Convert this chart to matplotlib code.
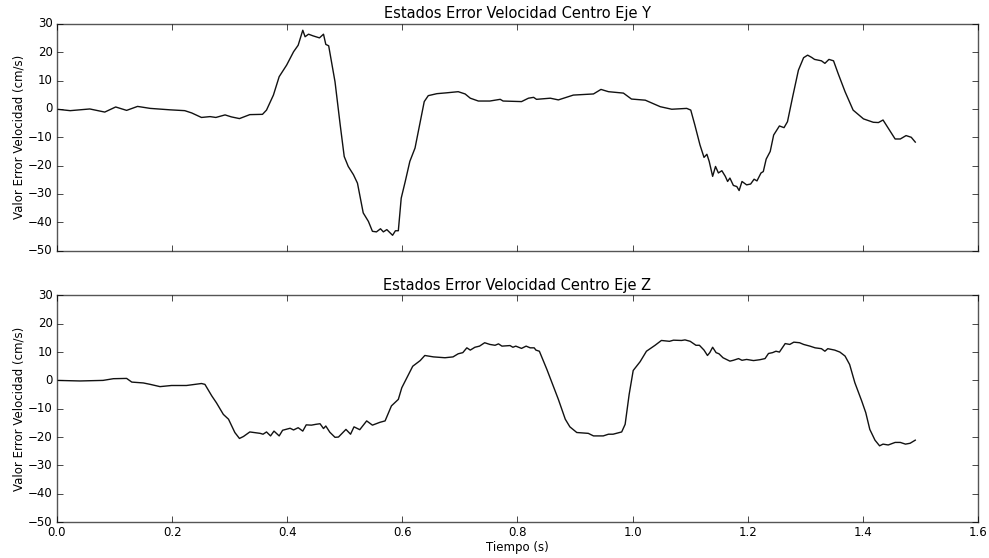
import numpy as np
import matplotlib
matplotlib.use("Agg")
import matplotlib.pyplot as plt

# Eje Y: tiempo (s) y error de velocidad (cm/s)
t_y = [0.0, 0.023, 0.057, 0.083, 0.102, 0.121, 0.140, 0.162, 0.196, 0.222, 0.234, 0.251,
       0.266, 0.276, 0.292, 0.303, 0.317, 0.335, 0.357, 0.364, 0.376, 0.386, 0.399, 0.411,
       0.419, 0.427, 0.431, 0.437, 0.445, 0.456, 0.463, 0.467, 0.472, 0.483, 0.492, 0.499,
       0.506, 0.515, 0.522, 0.532, 0.541, 0.548, 0.555, 0.562, 0.567, 0.573, 0.583, 0.588,
       0.593, 0.598, 0.605, 0.613, 0.622, 0.631, 0.638, 0.645, 0.660, 0.677, 0.697, 0.709,
       0.718, 0.732, 0.752, 0.770, 0.775, 0.807, 0.819, 0.828, 0.833, 0.857, 0.871, 0.883,
       0.897, 0.932, 0.945, 0.958, 0.984, 0.998, 1.022, 1.048, 1.068, 1.094, 1.101, 1.108,
       1.117, 1.124, 1.129, 1.133, 1.139, 1.144, 1.149, 1.155, 1.161, 1.165, 1.169, 1.175,
       1.181, 1.185, 1.190, 1.198, 1.205, 1.211, 1.216, 1.223, 1.227, 1.232, 1.239, 1.245,
       1.255, 1.263, 1.269, 1.278, 1.288, 1.297, 1.304, 1.311, 1.316, 1.328, 1.334, 1.341,
       1.349, 1.357, 1.369, 1.383, 1.401, 1.418, 1.427, 1.435, 1.444, 1.456, 1.465, 1.475,
       1.484, 1.491]
v_y = [-0.1, -0.6, 0.0, -1.1, 0.7, -0.5, 0.9, 0.2, -0.3, -0.6, -1.4, -3.0,
       -2.7, -3.0, -2.1, -2.8, -3.4, -2.0, -1.9, -0.4, 4.9, 11.4, 15.5, 20.2,
       22.5, 27.8, 25.5, 26.4, 25.8, 25.1, 26.4, 22.8, 22.3, 9.6, -5.6, -16.8,
       -20.3, -23.2, -26.2, -36.7, -39.7, -43.2, -43.4, -42.3, -43.4, -42.6, -44.6, -43.0,
       -43.0, -31.5, -25.6, -18.5, -13.8, -4.5, 2.6, 4.7, 5.4, 5.7, 6.1, 5.3,
       3.8, 2.8, 2.8, 3.4, 2.8, 2.6, 3.8, 4.1, 3.4, 3.8, 3.2, 4.0,
       4.9, 5.3, 6.9, 6.1, 5.6, 3.5, 3.1, 0.8, -0.1, 0.2, -0.4, -5.6,
       -12.7, -17.1, -16.0, -18.5, -23.8, -20.3, -22.6, -21.8, -23.8, -25.6, -24.4, -27.0,
       -27.4, -28.8, -25.6, -26.8, -26.5, -24.8, -25.4, -22.6, -22.1, -17.7, -15.0, -9.2,
       -6.0, -6.6, -4.5, 4.3, 13.7, 18.1, 19.0, 18.2, 17.5, 17.0, 16.1, 17.5,
       17.0, 12.5, 6.1, -0.4, -3.5, -4.7, -4.8, -3.9, -6.8, -10.6, -10.6, -9.4,
       -10.0, -11.7]

# Eje Z
t_z = [0.0, 0.040, 0.080, 0.098, 0.121, 0.130, 0.150, 0.162, 0.179, 0.199, 0.225, 0.240,
       0.251, 0.257, 0.269, 0.277, 0.289, 0.298, 0.309, 0.317, 0.324, 0.335, 0.353, 0.358,
       0.364, 0.371, 0.377, 0.386, 0.392, 0.405, 0.411, 0.419, 0.427, 0.433, 0.442, 0.450,
       0.457, 0.463, 0.467, 0.474, 0.483, 0.489, 0.502, 0.510, 0.516, 0.526, 0.538, 0.548,
       0.561, 0.570, 0.581, 0.593, 0.599, 0.618, 0.631, 0.639, 0.654, 0.674, 0.688, 0.697,
       0.705, 0.712, 0.718, 0.726, 0.734, 0.743, 0.752, 0.761, 0.767, 0.773, 0.787, 0.792,
       0.797, 0.807, 0.815, 0.822, 0.829, 0.832, 0.838, 0.851, 0.871, 0.883, 0.891, 0.903,
       0.923, 0.932, 0.949, 0.958, 0.966, 0.981, 0.987, 0.994, 1.001, 1.013, 1.024, 1.039,
       1.050, 1.064, 1.071, 1.085, 1.091, 1.100, 1.110, 1.116, 1.124, 1.130, 1.134, 1.139,
       1.145, 1.150, 1.157, 1.169, 1.175, 1.184, 1.190, 1.198, 1.210, 1.221, 1.230, 1.236,
       1.243, 1.249, 1.255, 1.265, 1.273, 1.280, 1.290, 1.297, 1.308, 1.317, 1.328, 1.334,
       1.339, 1.351, 1.360, 1.369, 1.377, 1.386, 1.398, 1.405, 1.412, 1.421, 1.429, 1.435,
       1.444, 1.456, 1.465, 1.474, 1.482, 1.491]
v_z = [0.0, -0.2, 0.0, 0.6, 0.7, -0.6, -0.9, -1.4, -2.2, -1.8, -1.8, -1.4,
       -1.1, -1.4, -5.5, -7.9, -12.0, -13.7, -18.4, -20.5, -19.8, -18.2, -18.7, -19.0,
       -18.2, -19.6, -17.9, -19.6, -17.6, -16.9, -17.5, -16.7, -17.9, -15.7, -15.8, -15.5,
       -15.3, -17.0, -16.1, -18.3, -20.1, -20.0, -17.3, -19.0, -16.4, -17.4, -14.3, -15.8,
       -14.8, -14.3, -9.0, -6.7, -2.6, 5.0, 7.0, 8.8, 8.3, 8.0, 8.3, 9.4,
       9.8, 11.5, 10.7, 11.7, 12.1, 13.3, 12.7, 12.4, 12.9, 12.1, 12.3, 11.7,
       12.1, 11.3, 12.1, 11.5, 11.5, 10.7, 10.3, 3.9, -6.7, -13.7, -16.4, -18.4,
       -18.7, -19.6, -19.6, -19.0, -19.0, -18.2, -15.5, -4.9, 3.5, 6.6, 10.3, 12.4,
       14.1, 13.8, 14.2, 14.1, 14.3, 13.8, 12.4, 12.4, 10.7, 8.8, 9.8, 11.7,
       9.8, 9.4, 8.0, 6.8, 7.1, 7.7, 7.1, 7.4, 7.0, 7.3, 7.7, 9.5,
       9.8, 10.3, 10.0, 13.0, 12.7, 13.5, 13.3, 12.7, 12.1, 11.5, 11.2, 10.3,
       11.2, 10.7, 10.0, 8.6, 5.6, -0.8, -7.3, -11.4, -17.3, -21.1, -23.1, -22.5,
       -22.8, -21.9, -21.9, -22.5, -22.2, -21.1]

titles = ["Estados Error Velocidad Centro Eje Y", "Estados Error Velocidad Centro Eje Z"]
x_ticks = [0.0, 0.2, 0.4, 0.6, 0.8, 1.0, 1.2, 1.4, 1.6]
y_ticks = [-50, -40, -30, -20, -10, 0, 10, 20, 30]

plt.style.use("classic")
plt.rcParams["font.family"] = ["DejaVu Sans"]

fig, axs = plt.subplots(2, 1, figsize=(9.89, 5.58), dpi=100, facecolor="white")
fig.subplots_adjust(left=0.0576, right=0.9889, top=0.957, bottom=0.0645, hspace=0.198)

for ax, t, v, title in zip(axs, [t_y, t_z], [v_y, v_z], titles):
    ax.plot(t, v, color="#111111", linewidth=1.0)
    ax.set_xlim(0, 1.6)
    ax.set_ylim(-50, 30)
    ax.set_xticks(x_ticks)
    ax.set_yticks(y_ticks)
    ax.set_title(title, fontsize=10.5, pad=4)
    ax.set_ylabel("Valor Error Velocidad (cm/s)", fontsize=8.5, labelpad=2)
    ax.tick_params(labelsize=8.5, direction="in", length=4, pad=3, colors="black")
    for s in ax.spines.values():
        s.set_color("#555555")

axs[0].set_xticklabels([])
axs[1].set_xlabel("Tiempo (s)", fontsize=8.5, labelpad=1)

fig.savefig("out.png", dpi=100, facecolor="white")
